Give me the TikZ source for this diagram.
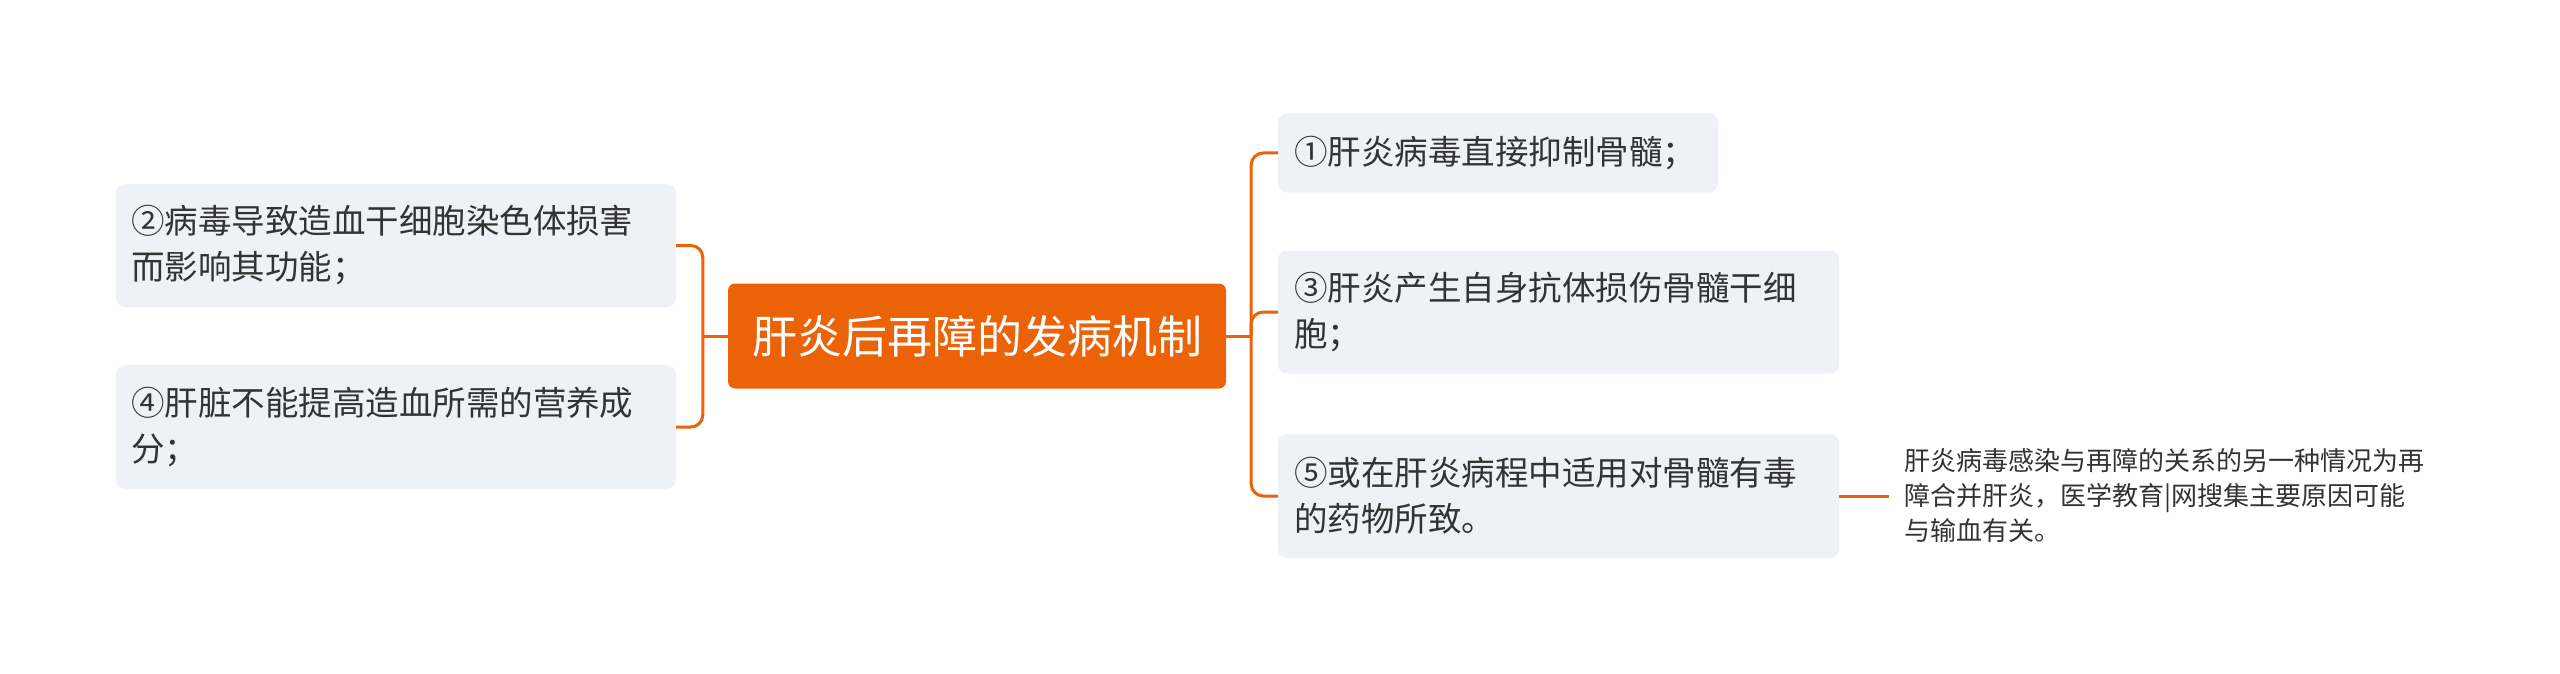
\documentclass[tikz,border=0pt]{standalone}
\usepackage{fontspec}
\setmainfont{Noto Sans CJK SC}
\usepackage{xcolor}
\usepackage{tikz}
\usetikzlibrary{arrows}

\definecolor{hzorange}{HTML}{EB6207}
\definecolor{hzgray}{HTML}{EEF1F5}
\definecolor{hztext}{HTML}{333333}

\begin{document}
\begin{tikzpicture}[x=1pt,y=-1pt,
    topic/.style={rectangle, fill=hzorange, rounded corners=7pt, inner sep=0pt},
    item/.style={rectangle, fill=hzgray, rounded corners=9pt, inner sep=0pt},
    itemtext/.style={anchor=west, align=left, inner sep=0pt, text=hztext,
        font=\fontsize{33.5}{46}\selectfont},
    link/.style={draw=hzorange, line width=3pt, rounded corners=12pt}]

    \useasboundingbox (0,0) rectangle (2560,674);

    \node[topic,
          minimum width = 498pt,
          minimum height = 105pt
          ] (root) at (977,336) {};
    \node[text = white, font = \fontsize{45}{54}\selectfont] at (root.center) {肝炎后再障的发病机制};

    % left side
    \node[item,
          minimum width = 560pt,
          minimum height = 123pt
          ] (virus) at (396,245.5) {};
    \node[itemtext] at ([xshift=15pt]virus.west) {②病毒导致造血干细胞染色体损害\\而影响其功能；};

    \node[item,
          minimum width = 560pt,
          minimum height = 124pt
          ] (liver) at (396,427) {};
    \node[itemtext] at ([xshift=15pt]liver.west) {④肝脏不能提高造血所需的营养成\\分；};

    % right side
    \node[item,
          minimum width = 440pt,
          minimum height = 79pt
          ] (direct) at (1498,153) {};
    \node[itemtext] at ([xshift=16pt]direct.west) {①肝炎病毒直接抑制骨髓；};

    \node[item,
          minimum width = 561pt,
          minimum height = 123pt
          ] (immune) at (1558.5,312) {};
    \node[itemtext] at ([xshift=16pt]immune.west) {③肝炎产生自身抗体损伤骨髓干细\\胞；};

    \node[item,
          minimum width = 561pt,
          minimum height = 124pt
          ] (drug) at (1558.5,496) {};
    \node[itemtext] at ([xshift=16pt]drug.west) {⑤或在肝炎病程中适用对骨髓有毒\\的药物所致。};

    \node[anchor = west,
          align = left,
          inner xsep = 15pt,
          inner ysep = 0pt,
          text = hztext,
          font = \fontsize{26}{35}\selectfont
          ] (note) at (1889,496) {肝炎病毒感染与再障的关系的另一种情况为再\\障合并肝炎，医学教育|网搜集主要原因可能\\与输血有关。};

    \coordinate (lj) at ([xshift=-25pt]root.west);
    \coordinate (rj) at ([xshift=25pt]root.east);

    \draw[link] (root.west) -- (lj);
    \draw[link] (virus.east) -| (lj) |- (liver.east);
    \draw[link] (root.east) -- (rj);
    \draw[link] (direct.west) -| (rj) |- (drug.west);
    \draw[link] (rj) |- (immune.west);
    \draw[link] (drug.east) -- (note.west);

\end{tikzpicture}
\end{document}
